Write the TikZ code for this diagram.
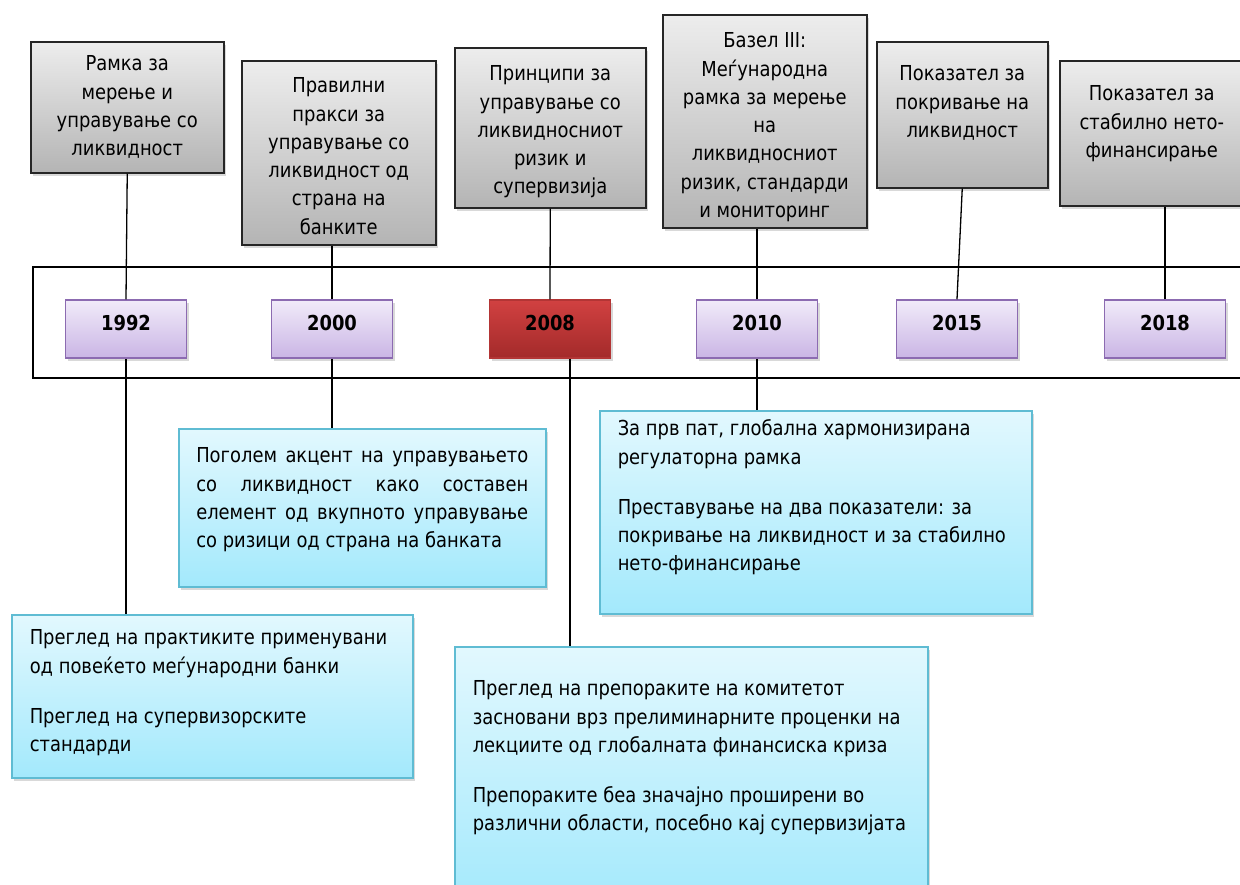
\documentclass[tikz,border=0pt]{standalone}
\usepackage{fontspec}
\setmainfont{DejaVu Sans}[FakeStretch=0.87]
\usetikzlibrary{shadows}

\definecolor{grayTop}{HTML}{EDEDED}
\definecolor{grayBot}{HTML}{B4B4B4}
\definecolor{purpTop}{HTML}{F1EBF9}
\definecolor{purpBot}{HTML}{CAB5E5}
\definecolor{purpLine}{HTML}{8C6BB1}
\definecolor{redTop}{HTML}{D14141}
\definecolor{redBot}{HTML}{A32A2A}
\definecolor{redLine}{HTML}{B33535}
\definecolor{blueTop}{HTML}{E2F8FE}
\definecolor{blueBot}{HTML}{A3E9FC}
\definecolor{blueLine}{HTML}{5FBCD3}

% height, width, top gap, text
\newcommand{\boxtext}[4]{\parbox[t][#1][t]{#2}{\vspace*{#3}#4}}

\tikzset{
  box/.style={draw, anchor=north west, inner ysep=0pt,
    drop shadow={shadow xshift=2pt, shadow yshift=-3pt, opacity=0.3}},
  graybox/.style={box, draw=black!85, line width=1.5pt,
    top color=grayTop, bottom color=grayBot, inner xsep=8pt},
  bluebox/.style={box, draw=blueLine, line width=1.5pt,
    top color=blueTop, bottom color=blueBot, inner xsep=18pt},
  yearbox/.style={draw=purpLine, line width=1.5pt, top color=purpTop, bottom color=purpBot,
    minimum width=121pt, minimum height=58pt, inner sep=0pt, text depth=13pt,
    drop shadow={shadow xshift=2pt, shadow yshift=-3pt, opacity=0.3}},
  redbox/.style={yearbox, draw=redLine, top color=redTop, bottom color=redBot},
  conn/.style={line width=1.3pt, black}
}

\begin{document}
\begin{tikzpicture}[x=1pt, y=1pt, every node/.style={font=\fontsize{20.6pt}{28.3pt}\selectfont}]
\useasboundingbox (0,0) rectangle (1240,-884);

\draw[line width=2.5pt] (33,-267) rectangle (1275,-378);

% top boxes
\node[graybox] (g1992) at (30,-41) {\boxtext{131pt}{177pt}{14pt}{\centering
  Рамка за\\ мерење и\\ управување со\\ ликвидност}};
\node[graybox] (g2000) at (241,-60) {\boxtext{184pt}{178pt}{17pt}{\centering
  Правилни\\ пракси за\\ управување со\\ ликвидност од\\ страна на\\ банките}};
\node[graybox] (g2008) at (454,-47) {\boxtext{160pt}{175pt}{18pt}{\centering
  Принципи за\\ управување со\\ ликвидносниот\\ ризик и\\ супервизија}};
\node[graybox] (g2010) at (662,-14) {\boxtext{213pt}{188pt}{18pt}{\centering
  Базел III:\\ Меѓународна\\ рамка за мерење\\ на\\ ликвидносниот\\ ризик, стандарди\\ и мониторинг}};
\node[graybox] (g2015) at (876,-41) {\boxtext{146pt}{155pt}{24pt}{\centering
  Показател за\\ покривање на\\ ликвидност}};
\node[graybox] (g2018) at (1059,-60) {\boxtext{145pt}{168pt}{25pt}{\centering
  Показател за\\ стабилно нето-\\ финансирање}};

% years
\node[yearbox] (y1992) at (126,-329) {\textbf{1992}};
\node[yearbox] (y2000) at (332,-329) {\textbf{2000}};
\node[redbox]  (y2008) at (550,-329) {\textbf{2008}};
\node[yearbox] (y2010) at (757,-329) {\textbf{2010}};
\node[yearbox] (y2015) at (957,-329) {\textbf{2015}};
\node[yearbox] (y2018) at (1165,-329) {\textbf{2018}};

% bottom boxes
\node[bluebox] (b1992) at (11,-614) {\boxtext{163pt}{365pt}{15pt}{\raggedright
  Преглед на практиките применувани\\ од повеќето меѓународни банки\\[21.7pt]
  Преглед на супервизорските\\ стандарди}};
\node[bluebox, inner xsep=17.5pt] (b2000) at (178,-428) {\boxtext{158pt}{332pt}{19pt}{%
  Поголем акцент на управувањето\linebreak со ликвидност како составен\linebreak
  елемент од вкупното управување\linebreak со ризици од страна на банката}};
\node[bluebox] (b2010) at (599,-410) {\boxtext{203pt}{396pt}{9pt}{\raggedright
  За прв пат, глобална хармонизирана\\ регулаторна рамка\\[21.7pt]
  Преставување на два показатели: за\\ покривање на ликвидност и за стабилно\\ нето-финансирање}};
\node[bluebox] (b2008) at (454,-646) {\boxtext{260pt}{437pt}{34pt}{\raggedright
  Преглед на препораките на комитетот\\ засновани врз прелиминарните проценки на\\
  лекциите од глобалната финансиска криза\\[21.7pt]
  Препораките беа значајно проширени во\\ различни области, посебно кај супервизијата}};

% connectors
\draw[conn] (g1992.south) -- (y1992.north);
\draw[conn] (y2000.north) -- (y2000.north |- g2000.south);
\draw[conn] (g2008.south) -- (y2008.north);
\draw[conn] (y2010.north) -- (y2010.north |- g2010.south);
\draw[conn] (g2015.south) -- (y2015.north);
\draw[conn] (y2018.north) -- (y2018.north |- g2018.south);

\draw[conn] (y1992.south) -- (y1992.south |- b1992.north);
\draw[conn] (y2000.south) -- (y2000.south |- b2000.north);
\draw[conn] ([xshift=20pt]y2008.south) -- ([xshift=20pt]y2008.south |- b2008.north);
\draw[conn] (y2010.south) -- (y2010.south |- b2010.north);
\end{tikzpicture}
\end{document}
